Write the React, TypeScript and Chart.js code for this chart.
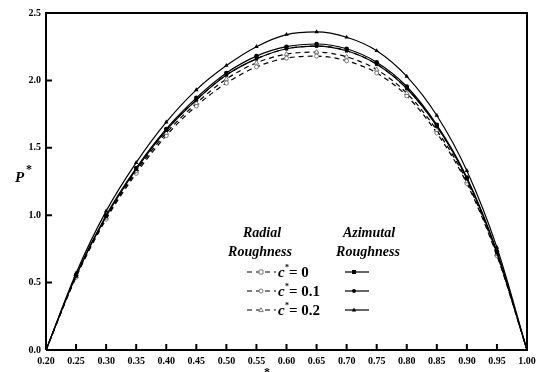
import React, { useEffect, useRef } from "react";
import { Chart, registerables } from "chart.js";

Chart.register(...registerables);

const xValues = [0.2, 0.25, 0.3, 0.35, 0.4, 0.45, 0.5, 0.55, 0.6, 0.65, 0.7, 0.75, 0.8, 0.85, 0.9, 0.95, 1.0];

const azimutal0 = [0, 0.55, 0.99, 1.34, 1.63, 1.855, 2.04, 2.16, 2.235, 2.255, 2.22, 2.12, 1.94, 1.66, 1.27, 0.72, 0];
const azimutal01 = [0, 0.555, 1.0, 1.35, 1.64, 1.87, 2.055, 2.18, 2.25, 2.27, 2.235, 2.135, 1.955, 1.67, 1.28, 0.73, 0];
const azimutal02 = [0, 0.57, 1.03, 1.39, 1.69, 1.93, 2.11, 2.25, 2.34, 2.36, 2.32, 2.22, 2.03, 1.74, 1.33, 0.76, 0];
const radial0 = [0, 0.55, 0.99, 1.34, 1.63, 1.855, 2.04, 2.16, 2.235, 2.255, 2.22, 2.12, 1.94, 1.66, 1.27, 0.72, 0];
const radial01 = [0, 0.54, 0.97, 1.31, 1.59, 1.81, 1.98, 2.1, 2.165, 2.18, 2.145, 2.055, 1.885, 1.61, 1.235, 0.7, 0];
const radial02 = [0, 0.545, 0.98, 1.325, 1.61, 1.83, 2.01, 2.13, 2.195, 2.21, 2.175, 2.08, 1.905, 1.63, 1.25, 0.71, 0];

const xTicks = [0.2, 0.25, 0.3, 0.35, 0.4, 0.45, 0.5, 0.55, 0.6, 0.65, 0.7, 0.75, 0.8, 0.85, 0.9, 0.95, 1.0];
const yTicks = [0, 0.5, 1.0, 1.5, 2.0, 2.5];

const legendRows = ["0", "0.1", "0.2"];
const radialMarkers = ["rect", "circle", "triangle"];
const azimutalMarkers = ["rect", "circle", "triangle"];

const SERIF = "'Liberation Serif', 'Times New Roman', serif";
const GRAY = "#7a7a7a";

function pts(ys: number[]) {
  return xValues.map((x, i) => ({ x, y: ys[i] }));
}

function drawMarker(ctx: CanvasRenderingContext2D, style: string, x: number, y: number, r: number, filled: boolean) {
  ctx.save();
  ctx.beginPath();
  if (style === "rect") {
    ctx.rect(x - r, y - r, 2 * r, 2 * r);
  } else if (style === "circle") {
    ctx.arc(x, y, r, 0, Math.PI * 2);
  } else {
    ctx.moveTo(x, y - r * 1.2);
    ctx.lineTo(x + r * 1.1, y + r * 0.8);
    ctx.lineTo(x - r * 1.1, y + r * 0.8);
    ctx.closePath();
  }
  if (filled) {
    ctx.fillStyle = "#000";
    ctx.fill();
  } else {
    ctx.fillStyle = "#fff";
    ctx.fill();
    ctx.strokeStyle = GRAY;
    ctx.lineWidth = 1;
    ctx.stroke();
  }
  ctx.restore();
}

const overlay = {
  id: "overlay",
  afterDraw(chart: any) {
    const ctx: any = chart.ctx;
    const { left, right, top, bottom } = chart.chartArea;
    const xs = chart.scales.x;
    const ys = chart.scales.y;
    ctx.save();
    // frame
    ctx.strokeStyle = "#000";
    ctx.lineWidth = 2;
    ctx.beginPath();
    ctx.moveTo(left, bottom);
    ctx.lineTo(left, top);
    ctx.lineTo(right, top);
    ctx.lineTo(right, bottom);
    ctx.lineTo(left, bottom);
    ctx.stroke();
    // inward ticks
    ctx.lineWidth = 2;
    ctx.beginPath();
    xTicks.forEach((v) => {
      const px = xs.getPixelForValue(v);
      if (px > left + 2 && px < right - 2) {
        ctx.moveTo(px, bottom);
        ctx.lineTo(px, bottom - 6);
      }
    });
    yTicks.forEach((v) => {
      const py = ys.getPixelForValue(v);
      if (py > top + 2 && py < bottom - 2) {
        ctx.moveTo(left, py);
        ctx.lineTo(left + 6, py);
      }
    });
    ctx.stroke();

    // axis titles
    ctx.fillStyle = "#000";
    ctx.textBaseline = "alphabetic";
    ctx.font = `italic bold 15px ${SERIF}`;
    ctx.textAlign = "left";
    ctx.fillText("P", 15, 182);
    ctx.font = `bold 12px ${SERIF}`;
    ctx.fillText("*", 26, 173);
    ctx.font = `italic bold 15px ${SERIF}`;
    ctx.fillText("x", 258, 384);
    ctx.font = `bold 12px ${SERIF}`;
    ctx.fillText("*", 264, 376);

    // legend headers
    ctx.font = `italic bold 14px ${SERIF}`;
    ctx.textAlign = "center";
    ctx.textBaseline = "middle";
    ctx.fillText("Radial", 262, 233);
    ctx.fillText("Roughness", 260, 252);
    ctx.fillText("Azimutal", 369, 233);
    ctx.fillText("Roughness", 368, 252);

    const rowY = [272, 291, 310];
    legendRows.forEach((lab, i) => {
      const y = rowY[i];
      // dashed sample
      ctx.save();
      ctx.strokeStyle = "#000";
      ctx.lineWidth = 1.2;
      ctx.setLineDash([5, 4]);
      ctx.beginPath();
      ctx.moveTo(247, y);
      ctx.lineTo(276, y);
      ctx.stroke();
      ctx.restore();
      drawMarker(ctx, radialMarkers[i], 261, y, 2, false);
      // solid sample
      ctx.save();
      ctx.strokeStyle = "#000";
      ctx.lineWidth = 1.2;
      ctx.beginPath();
      ctx.moveTo(345, y);
      ctx.lineTo(369, y);
      ctx.stroke();
      ctx.restore();
      drawMarker(ctx, azimutalMarkers[i], 354, y, 2, true);
      // text
      ctx.textAlign = "left";
      ctx.textBaseline = "alphabetic";
      ctx.font = `italic bold 15px ${SERIF}`;
      ctx.fillText("c", 278, y + 5);
      ctx.font = `bold 8px ${SERIF}`;
      ctx.fillText("*", 285, y - 2);
      ctx.font = `bold 15px ${SERIF}`;
      ctx.fillText("= " + lab, 289, y + 5);
    });
    ctx.restore();
  },
};

export default function App() {
  const ref = useRef<HTMLCanvasElement | null>(null);
  useEffect(() => {
    document.body.style.margin = "0";
    const canvas = ref.current;
    if (!canvas) return;
    const solid = (label: string, ys: number[], marker: string, r: number) => ({
      label,
      data: pts(ys),
      borderColor: "#000",
      borderWidth: 1.2,
      pointStyle: marker,
      pointRadius: (c: any) => (c.dataIndex === 0 || c.dataIndex === xValues.length - 1 ? 0 : r),
      pointBackgroundColor: "#000",
      pointBorderColor: "#000",
      pointBorderWidth: 0,
      cubicInterpolationMode: "monotone",
      fill: false,
    });
    const dashed = (label: string, ys: number[], marker: string, r: number) => ({
      label,
      data: pts(ys),
      borderColor: "#000",
      borderWidth: 1.2,
      borderDash: [5, 4],
      pointStyle: marker,
      pointRadius: (c: any) => (c.dataIndex === 0 || c.dataIndex === xValues.length - 1 ? 0 : r),
      pointBackgroundColor: "#fff",
      pointBorderColor: GRAY,
      pointBorderWidth: 1,
      cubicInterpolationMode: "monotone",
      fill: false,
    });
    const chart = new Chart(canvas, {
      type: "line",
      data: {
        datasets: [
          solid("Azimutal c*=0.2", azimutal02, "triangle", 2.6),
          solid("Azimutal c*=0.1", azimutal01, "circle", 2.3),
          solid("Azimutal c*=0", azimutal0, "rect", 2.3),
          dashed("Radial c*=0.2", radial02, "triangle", 2.6),
          dashed("Radial c*=0.1", radial01, "circle", 2),
          dashed("Radial c*=0", radial0, "rect", 2),
        ] as any,
      },
      options: {
        animation: false,
        responsive: false,
        devicePixelRatio: 1,
        layout: { padding: { top: 13, right: 15, left: 0, bottom: 0 } },
        plugins: { legend: { display: false }, tooltip: { enabled: false } },
        scales: {
          x: {
            type: "linear",
            min: 0.2,
            max: 1.0,
            afterFit: (s: any) => {
              s.height = 22;
            },
            afterBuildTicks: (s: any) => {
              s.ticks = xTicks.map((v) => ({ value: v }));
            },
            grid: { display: false, drawTicks: false },
            border: { display: false },
            ticks: {
              color: "#000",
              padding: 5,
              maxRotation: 0,
              autoSkip: false,
              font: { family: SERIF, size: 10, weight: "bold" },
              callback: (v: any) => Number(v).toFixed(2),
            },
          },
          y: {
            type: "linear",
            min: 0,
            max: 2.5,
            afterFit: (s: any) => {
              s.width = 46;
            },
            afterBuildTicks: (s: any) => {
              s.ticks = yTicks.map((v) => ({ value: v }));
            },
            grid: { display: false, drawTicks: false },
            border: { display: false },
            ticks: {
              color: "#000",
              padding: 5,
              autoSkip: false,
              font: { family: SERIF, size: 10, weight: "bold" },
              callback: (v: any) => Number(v).toFixed(1),
            },
          },
        },
      } as any,
      plugins: [overlay],
    });
    return () => chart.destroy();
  }, []);
  return (
    <div style={{ width: 542, height: 372, position: "relative" }}>
      <canvas ref={ref} width={542} height={372} style={{ display: "block" }} />
    </div>
  );
}
